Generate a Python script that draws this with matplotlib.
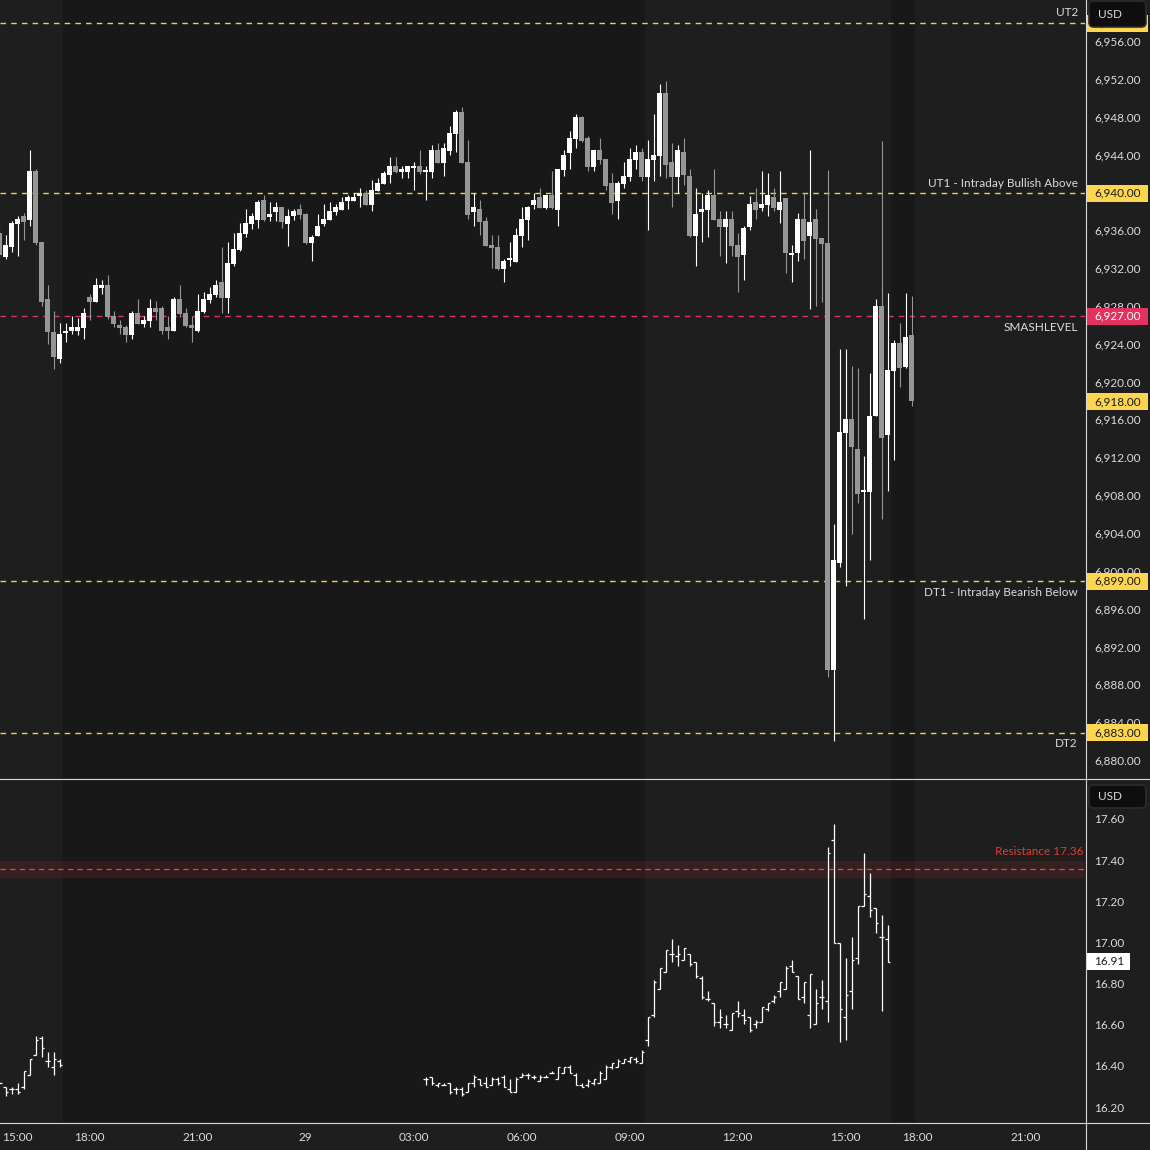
import matplotlib
matplotlib.use("Agg")
import matplotlib.pyplot as plt
import matplotlib.transforms as mtransforms
from matplotlib.collections import LineCollection
from matplotlib.lines import Line2D
from matplotlib.patches import Rectangle, FancyBboxPatch
import numpy as np
import pandas as pd

plt.rcParams['font.family'] = ['Lato', 'DejaVu Sans']

# ES 10 minute candles, 28 Oct 14:30 -> 29 Oct 16:50 (ET), 17:00-18:00 break skipped
es_start = "2025-10-28 14:30"
es_open = [
    6935.8, 6933.3, 6934.3, 6936.8, 6937.6, 6937.2, 6942.4, 6934.9, 6928.8, 6925.3,
    6922.5, 6925.2, 6925.5, 6925.5, 6925.8, 6929.0, 6928.5, 6930.0, 6930.3, 6927.0,
    6926.1, 6925.9, 6925.0, 6927.4, 6926.2, 6926.5, 6927.9, 6927.9, 6925.9, 6925.5,
    6928.8, 6927.4, 6926.1, 6925.5, 6927.5, 6928.7, 6929.3, 6930.6, 6928.9, 6932.5,
    6934.0, 6935.7, 6936.8, 6937.2, 6939.3, 6937.5, 6938.0, 6938.6, 6936.8, 6937.6,
    6938.3, 6937.8, 6934.8, 6935.5, 6936.8, 6937.2, 6938.0, 6938.2, 6939.2, 6939.2,
    6939.7, 6940.0, 6938.8, 6940.2, 6941.0, 6941.9, 6942.9, 6942.3, 6942.3, 6942.7,
    6942.9, 6942.3, 6942.3, 6944.6, 6943.2, 6944.5, 6946.3, 6948.6, 6943.3, 6938.0,
    6938.3, 6937.1, 6934.5, 6934.3, 6932.0, 6933.0, 6932.7, 6935.5, 6937.2, 6938.8,
    6939.6, 6938.5, 6939.8, 6938.2, 6942.5, 6944.3, 6945.7, 6948.1, 6945.9, 6942.8,
    6944.6, 6943.6, 6941.1, 6939.2, 6941.0, 6941.7, 6943.5, 6944.4, 6941.7, 6943.5,
    6944.0, 6950.6, 6943.3, 6941.7, 6944.4, 6941.8, 6935.5, 6938.0, 6938.2, 6939.8,
    6937.3, 6936.4, 6937.3, 6934.5, 6933.5, 6936.4, 6939.1, 6938.5, 6938.8, 6939.6,
    6938.2, 6939.5, 6933.5, 6933.7, 6937.3, 6935.5, 6937.3, 6935.3, 6934.8, 6889.6,
    6900.9, 6914.7, 6916.2, 6913.0, 6908.4, 6908.4, 6916.5, 6928.1, 6914.5, 6921.2,
    6924.2, 6921.6, 6925.0,
]
es_high = [
    6936.5, 6935.6, 6937.1, 6937.6, 6937.9, 6944.6, 6942.6, 6934.9, 6930.3, 6927.6,
    6926.3, 6926.3, 6927.0, 6926.8, 6927.9, 6929.4, 6931.1, 6930.8, 6931.4, 6927.6,
    6926.6, 6926.1, 6927.6, 6928.8, 6927.0, 6928.8, 6928.6, 6928.1, 6927.0, 6929.0,
    6930.3, 6927.9, 6927.0, 6929.4, 6929.6, 6930.1, 6930.8, 6934.3, 6934.9, 6935.8,
    6936.9, 6938.3, 6937.9, 6939.3, 6939.8, 6939.1, 6939.1, 6938.6, 6938.3, 6938.3,
    6938.9, 6937.9, 6935.6, 6937.8, 6938.9, 6939.1, 6938.9, 6939.6, 6939.8, 6940.0,
    6940.6, 6940.4, 6941.4, 6941.6, 6942.4, 6943.8, 6943.8, 6942.9, 6942.9, 6943.3,
    6944.6, 6942.9, 6945.1, 6945.3, 6945.3, 6947.1, 6948.8, 6949.1, 6945.6, 6940.0,
    6939.3, 6937.5, 6935.6, 6935.6, 6933.1, 6934.9, 6936.3, 6938.6, 6938.7, 6940.0,
    6940.6, 6939.8, 6942.4, 6942.6, 6944.6, 6946.6, 6948.4, 6948.2, 6946.1, 6944.6,
    6945.9, 6943.6, 6942.1, 6941.3, 6943.3, 6944.8, 6945.1, 6944.8, 6945.6, 6948.4,
    6951.6, 6951.9, 6945.3, 6945.1, 6945.9, 6942.6, 6940.6, 6940.0, 6940.4, 6942.6,
    6938.1, 6938.1, 6938.1, 6935.8, 6936.5, 6939.7, 6940.6, 6942.4, 6942.1, 6940.6,
    6942.4, 6939.5, 6934.5, 6937.9, 6940.0, 6944.6, 6938.3, 6935.3, 6942.5, 6905.1,
    6923.5, 6923.5, 6921.7, 6921.5, 6912.2, 6921.0, 6928.8, 6945.5, 6929.5, 6924.5,
    6926.3, 6929.5, 6929.2,
]
es_low = [
    6933.0, 6933.1, 6933.8, 6933.4, 6935.1, 6936.6, 6934.5, 6928.1, 6924.1, 6921.4,
    6922.1, 6924.3, 6925.1, 6925.0, 6924.6, 6926.6, 6928.5, 6929.4, 6926.7, 6925.9,
    6925.1, 6924.3, 6924.6, 6926.2, 6925.9, 6925.9, 6926.6, 6925.1, 6924.6, 6925.5,
    6926.9, 6925.9, 6924.3, 6925.3, 6927.4, 6928.4, 6929.0, 6927.4, 6927.4, 6932.3,
    6933.9, 6935.4, 6936.2, 6936.3, 6937.1, 6937.1, 6937.1, 6936.3, 6934.4, 6937.2,
    6937.3, 6934.6, 6932.9, 6935.5, 6936.5, 6937.2, 6937.7, 6938.2, 6938.3, 6939.2,
    6938.6, 6938.8, 6938.1, 6940.2, 6941.0, 6941.1, 6942.1, 6941.6, 6941.6, 6940.4,
    6942.0, 6939.3, 6941.6, 6943.2, 6941.8, 6944.1, 6944.4, 6943.2, 6937.3, 6936.5,
    6935.6, 6934.4, 6932.1, 6931.9, 6930.6, 6932.3, 6932.7, 6934.3, 6935.1, 6938.4,
    6938.5, 6938.3, 6938.3, 6936.5, 6941.8, 6942.6, 6944.8, 6945.4, 6942.4, 6942.4,
    6943.1, 6940.4, 6937.8, 6937.3, 6940.6, 6941.3, 6942.6, 6941.3, 6936.1, 6941.3,
    6941.8, 6941.6, 6938.6, 6940.0, 6940.9, 6935.4, 6932.3, 6934.9, 6935.4, 6937.2,
    6933.4, 6932.6, 6933.4, 6929.6, 6930.8, 6936.1, 6937.3, 6938.1, 6937.6, 6938.1,
    6936.9, 6931.6, 6930.6, 6932.8, 6933.1, 6927.8, 6928.1, 6928.5, 6888.9, 6882.1,
    6900.5, 6898.5, 6904.0, 6907.3, 6895.0, 6901.2, 6916.5, 6905.6, 6908.5, 6911.8,
    6919.5, 6921.5, 6917.5,
]
es_close = [
    6933.5, 6934.5, 6936.9, 6937.3, 6937.0, 6942.4, 6934.8, 6928.5, 6925.3, 6922.7,
    6925.1, 6925.4, 6925.9, 6925.9, 6927.4, 6928.5, 6930.3, 6930.3, 6926.9, 6926.2,
    6925.8, 6925.0, 6927.4, 6926.2, 6926.6, 6927.9, 6927.5, 6925.5, 6925.5, 6928.8,
    6927.2, 6926.0, 6925.8, 6927.6, 6928.8, 6929.4, 6930.3, 6928.9, 6932.6, 6934.1,
    6935.8, 6936.9, 6937.6, 6939.1, 6937.2, 6937.8, 6938.6, 6937.0, 6937.6, 6938.1,
    6937.7, 6934.8, 6935.4, 6936.5, 6937.3, 6938.1, 6938.6, 6939.1, 6939.6, 6939.6,
    6940.0, 6938.8, 6940.4, 6941.1, 6942.1, 6942.9, 6942.3, 6942.6, 6942.9, 6942.9,
    6942.3, 6942.5, 6944.6, 6943.2, 6944.8, 6946.4, 6948.6, 6943.2, 6937.7, 6938.6,
    6937.0, 6934.4, 6934.2, 6932.0, 6932.9, 6933.2, 6935.6, 6937.3, 6938.6, 6939.3,
    6938.5, 6939.8, 6938.5, 6942.6, 6944.1, 6945.9, 6948.1, 6945.5, 6942.8, 6944.6,
    6943.5, 6940.8, 6939.0, 6941.1, 6941.8, 6943.6, 6944.4, 6941.7, 6943.6, 6944.1,
    6950.6, 6943.0, 6941.7, 6944.6, 6941.9, 6935.5, 6937.8, 6938.3, 6939.8, 6937.2,
    6936.4, 6937.3, 6934.4, 6933.3, 6936.3, 6938.9, 6938.2, 6938.9, 6939.8, 6938.5,
    6939.1, 6933.7, 6933.7, 6937.3, 6935.0, 6937.0, 6935.2, 6934.7, 6889.6, 6901.2,
    6914.8, 6916.2, 6913.2, 6908.2, 6908.6, 6916.5, 6928.1, 6914.1, 6921.3, 6924.2,
    6921.5, 6924.8, 6918.0,
]

# VIX 10 minute bars, two stretches (no overnight prints)
vix1_start = "2025-10-28 14:30"
vix1_open = [16.33, 16.30, 16.29, 16.29, 16.30, 16.36, 16.46, 16.54, 16.43, 16.40, 16.43]
vix1_high = [16.33, 16.30, 16.30, 16.32, 16.38, 16.44, 16.55, 16.55, 16.47, 16.47, 16.44]
vix1_low = [16.32, 16.26, 16.27, 16.27, 16.29, 16.36, 16.46, 16.45, 16.40, 16.36, 16.40]
vix1_close = [16.32, 16.28, 16.29, 16.28, 16.38, 16.44, 16.53, 16.49, 16.43, 16.44, 16.41]

vix2_start = "2025-10-29 03:20"
vix2_open = [
    16.34, 16.35, 16.31, 16.31, 16.32, 16.29, 16.29, 16.28, 16.32, 16.34,
    16.32, 16.31, 16.34, 16.35, 16.29, 16.28, 16.35, 16.36, 16.35, 16.33,
    16.35, 16.37, 16.34, 16.37, 16.40, 16.36, 16.31, 16.31, 16.32, 16.32,
    16.34, 16.40, 16.40, 16.42, 16.43, 16.44, 16.42, 16.53, 16.65, 16.78,
    16.86, 16.95, 16.94, 16.92, 16.95, 16.91, 16.83, 16.73, 16.71, 16.62,
    16.61, 16.58, 16.67, 16.65, 16.64, 16.61, 16.62, 16.68, 16.72, 16.77,
    16.78, 16.89, 16.84, 16.74, 16.65, 16.61, 16.74, 16.72, 17.50, 17.00,
    16.64, 16.77, 16.93, 17.18, 17.23, 17.17, 17.03, 17.02,
]
vix2_high = [
    16.35, 16.35, 16.32, 16.32, 16.32, 16.30, 16.30, 16.32, 16.36, 16.34,
    16.35, 16.35, 16.35, 16.36, 16.34, 16.35, 16.37, 16.37, 16.36, 16.36,
    16.36, 16.38, 16.40, 16.40, 16.41, 16.37, 16.32, 16.34, 16.34, 16.38,
    16.41, 16.42, 16.44, 16.44, 16.45, 16.45, 16.48, 16.64, 16.82, 16.88,
    16.97, 17.02, 16.99, 16.98, 16.95, 16.91, 16.84, 16.77, 16.71, 16.68,
    16.65, 16.66, 16.72, 16.68, 16.64, 16.63, 16.69, 16.71, 16.75, 16.81,
    16.89, 16.92, 16.84, 16.81, 16.85, 16.78, 16.82, 17.47, 17.58, 17.00,
    16.93, 17.03, 17.18, 17.44, 17.34, 17.17, 17.14, 17.09,
]
vix2_low = [
    16.31, 16.31, 16.30, 16.31, 16.27, 16.27, 16.26, 16.28, 16.30, 16.31,
    16.30, 16.31, 16.31, 16.30, 16.28, 16.28, 16.35, 16.34, 16.34, 16.33,
    16.35, 16.37, 16.34, 16.37, 16.37, 16.31, 16.30, 16.30, 16.31, 16.32,
    16.34, 16.39, 16.40, 16.42, 16.42, 16.42, 16.42, 16.50, 16.64, 16.78,
    16.86, 16.91, 16.89, 16.92, 16.89, 16.83, 16.73, 16.72, 16.60, 16.59,
    16.59, 16.58, 16.64, 16.61, 16.57, 16.59, 16.62, 16.67, 16.71, 16.74,
    16.78, 16.86, 16.73, 16.71, 16.59, 16.61, 16.68, 16.62, 17.00, 16.52,
    16.53, 16.68, 16.90, 17.18, 17.13, 17.05, 16.67, 16.91,
]
vix2_close = [
    16.34, 16.32, 16.32, 16.31, 16.28, 16.29, 16.27, 16.32, 16.35, 16.31,
    16.30, 16.34, 16.32, 16.30, 16.28, 16.34, 16.36, 16.36, 16.35, 16.35,
    16.35, 16.37, 16.40, 16.40, 16.37, 16.31, 16.30, 16.33, 16.34, 16.37,
    16.40, 16.42, 16.43, 16.44, 16.45, 16.43, 16.47, 16.64, 16.81, 16.88,
    16.97, 16.95, 16.95, 16.98, 16.90, 16.84, 16.74, 16.73, 16.62, 16.64,
    16.61, 16.66, 16.66, 16.63, 16.58, 16.62, 16.69, 16.71, 16.74, 16.81,
    16.88, 16.86, 16.73, 16.81, 16.85, 16.71, 16.74, 17.44, 17.00, 16.68,
    16.75, 16.92, 17.18, 17.24, 17.16, 17.10, 17.03, 16.91,
]

level_names = ["UT2", "UT1 - Intraday Bullish Above", "SMASHLEVEL",
               "DT1 - Intraday Bearish Below", "DT2"]
level_prices = [6958, 6940, 6927, 6899, 6883]
es_ticks = list(range(6880, 6957, 4))
vix_ticks = [16.2, 16.4, 16.6, 16.8, 17.0, 17.2, 17.4, 17.6]
vix_resistance = 17.36

# ---- style ----
BG_RTH = '#1e1e1e'
BG_ETH = '#181818'
UP = '#ffffff'
DOWN = '#969696'
YELLOW = '#f6cf45'
RED_LVL = '#e2325f'
TXT = '#dcdcdc'
FS = 8.5

# time axis: one slot per 10 minute bar, daily break removed
bar_times = pd.date_range("2025-10-28 14:30", "2025-10-29 23:50", freq="10min")
bar_times = bar_times[bar_times.hour != 17]
n_es = len(es_close)
es_x = np.arange(n_es) + bar_times.get_loc(pd.Timestamp(es_start))

W = 1150.0
fig = plt.figure(figsize=(11.5, 11.5), dpi=100, facecolor=BG_RTH)
ax = fig.add_axes([0, 372 / W, 1085 / W, 778 / W], facecolor=BG_RTH)
ax2 = fig.add_axes([0, 28 / W, 1085 / W, 342 / W], facecolor=BG_RTH, sharex=ax)
sc = fig.add_axes([1086 / W, 372 / W, 64 / W, 778 / W], facecolor=BG_RTH, sharey=ax)
sc2 = fig.add_axes([1086 / W, 28 / W, 64 / W, 342 / W], facecolor=BG_RTH, sharey=ax2)

ax.set_xlim(0.5 / 6, 1085.5 / 6)
ax.set_ylim(6878.2, 6960.44)
ax2.set_ylim(16.132, 17.794)
for a in (sc, sc2):
    a.set_xlim(0, 64)

for a in (ax, ax2, sc, sc2):
    for s in a.spines.values():
        s.set_visible(False)
    a.tick_params(left=False, right=False, bottom=False, top=False,
                  labelleft=False, labelbottom=False)

# extended hours shading (RTH = 09:30-16:15)
mins = bar_times.hour * 60 + bar_times.minute
is_eth = ~((mins >= 570) & (mins < 975))
eth = np.asarray(is_eth[:es_x[-1] + 1])
k = 0
while k < len(eth):
    if eth[k]:
        j = k
        while j + 1 < len(eth) and eth[j + 1]:
            j += 1
        for a in (ax, ax2):
            a.axvspan(k - 0.5, j + 0.5, color=BG_ETH, lw=0, zorder=0)
        k = j + 1
    else:
        k += 1

# candles
o = np.array(es_open); h = np.array(es_high); l = np.array(es_low); c = np.array(es_close)
cols = np.where(c >= o, UP, DOWN)
ax.vlines(es_x, l, h, colors=cols, lw=0.8, zorder=3)
body = np.maximum(np.abs(c - o), 0.12)
ax.bar(es_x, body, bottom=np.minimum(o, c), width=0.82, color=cols, lw=0, zorder=4)

# levels
lvl_tr = mtransforms.blended_transform_factory(ax.transAxes, ax.transData)
for name, p in zip(level_names, level_prices):
    col = RED_LVL if name == "SMASHLEVEL" else YELLOW
    ax.axhline(p, color=col, lw=1.0, ls=(0, (4.0, 3.7)), zorder=2)
    above = name.startswith("UT")
    ax.annotate(name, xy=(1078 / 1085, p), xycoords=lvl_tr,
                xytext=(0, 7.3 if above else -8.2), textcoords='offset points',
                ha='right', va='center', color=TXT, fontsize=FS)

# VIX OHLC bars
segs = []
for start, vo, vh, vl, vc in ((vix1_start, vix1_open, vix1_high, vix1_low, vix1_close),
                              (vix2_start, vix2_open, vix2_high, vix2_low, vix2_close)):
    x0 = bar_times.get_loc(pd.Timestamp(start))
    for n in range(len(vc)):
        x = x0 + n
        segs.append([(x, vl[n]), (x, vh[n])])
        segs.append([(x - 0.42, vo[n]), (x, vo[n])])
        segs.append([(x, vc[n]), (x + 0.42, vc[n])])
ax2.add_collection(LineCollection(segs, colors=UP, linewidths=0.9, zorder=3))

ax2.axhspan(vix_resistance - 0.04, vix_resistance + 0.04, color='#e53935', alpha=0.13, lw=0, zorder=1)
ax2.axhline(vix_resistance, color='#e04a44', lw=0.9, ls=(0, (4.3, 3.4)), zorder=2)
ax2.annotate(f"Resistance {vix_resistance:.2f}", xy=(1, vix_resistance),
             xycoords=mtransforms.blended_transform_factory(ax2.transAxes, ax2.transData),
             xytext=(-1, 13), textcoords='offset points', ha='right', va='center',
             color='#e53935', fontsize=FS)

# time labels
tick_pos, tick_lab = [], []
for k, t in enumerate(bar_times):
    if t.minute == 0 and t.hour % 3 == 0:
        tick_pos.append(k)
        tick_lab.append(str(t.day) if t.hour == 0 else t.strftime("%H:%M"))
ax2.set_xticks(tick_pos)
ax2.set_xticklabels(tick_lab)
ax2.tick_params(labelbottom=True, bottom=False, pad=4, labelsize=FS, labelcolor=TXT)

# price scales
for p in es_ticks:
    sc.text(8, p, f"{p:,.2f}", ha='left', va='center', color=TXT, fontsize=FS, zorder=2)
last = es_close[-1]
for p in level_prices + [last]:
    is_red = p == 6927
    sc.add_patch(Rectangle((1, p - 0.9), 61, 1.8, color=RED_LVL if is_red else '#fdd54f', lw=0, zorder=3))
    sc.text(8, p, f"{p:,.2f}", ha='left', va='center', color='#ffffff' if is_red else '#1a1a1a',
            fontsize=FS, zorder=4)

for v in vix_ticks:
    sc2.text(8, v, f"{v:.2f}", ha='left', va='center', color=TXT, fontsize=FS)
vlast = vix2_close[-1]
sc2.add_patch(Rectangle((0, vlast - 0.041), 44, 0.082, color='#ffffff', lw=0, zorder=3))
sc2.text(8, vlast, f"{vlast:.2f}", ha='left', va='center', color='#1a1a1a', fontsize=FS, zorder=4)

# currency boxes
for y_top, hgt in ((1, 26), (785, 23)):
    box = FancyBboxPatch((1089 / W, 1 - (y_top + hgt) / W), 57 / W, hgt / W,
                         boxstyle="round,pad=0,rounding_size=0.004",
                         transform=fig.transFigure, fc='#0e0e0e', ec='#2c2c2c', lw=1.2, zorder=5)
    fig.add_artist(box)
    fig.text(1098 / W, 1 - (y_top + hgt / 2) / W, "USD", ha='left', va='center', color=TXT,
             fontsize=FS, zorder=6)

# pane separators
for yy in (778.5, 1122.5):
    fig.add_artist(Line2D([0, 1], [1 - yy / W] * 2, transform=fig.transFigure, color='#d8d8d8', lw=0.8))
fig.add_artist(Line2D([1085.5 / W] * 2, [0, 1], transform=fig.transFigure, color='#d8d8d8', lw=0.8))

fig.savefig("out.png", dpi=100, facecolor=BG_RTH)
